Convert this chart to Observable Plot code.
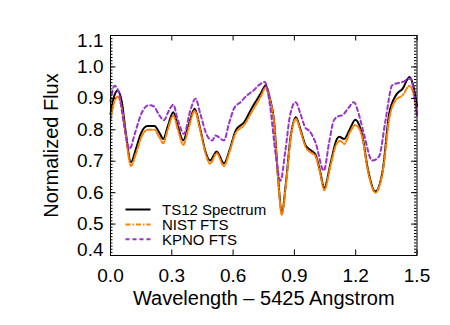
<!DOCTYPE html>
<html><head><meta charset="utf-8">
<script src="https://cdn.jsdelivr.net/npm/d3@7"></script>
<script src="https://cdn.jsdelivr.net/npm/@observablehq/plot@0.6"></script>
<style>body{margin:0;background:#fff}</style>
</head><body><div id="chart"></div>
<script>
// TS12 spectrum (black solid)
const tsX = [0.000,0.015,0.035,0.055,0.075,0.100,0.125,0.150,0.180,0.215,0.240,0.258,0.280,0.307,0.330,0.356,0.380,0.412,0.440,0.465,0.487,0.520,0.555,0.585,0.613,0.654,0.694,0.735,0.760,0.780,0.800,0.820,0.838,0.860,0.880,0.907,0.930,0.955,0.980,1.002,1.025,1.046,1.078,1.108,1.119,1.144,1.170,1.198,1.220,1.234,1.258,1.296,1.332,1.364,1.397,1.430,1.463,1.480,1.500];
const tsY = [0.850,0.900,0.925,0.890,0.790,0.697,0.740,0.790,0.812,0.812,0.790,0.771,0.810,0.856,0.810,0.766,0.810,0.867,0.800,0.730,0.702,0.731,0.693,0.740,0.798,0.824,0.872,0.915,0.942,0.900,0.830,0.650,0.535,0.640,0.770,0.840,0.800,0.750,0.735,0.723,0.670,0.615,0.697,0.771,0.778,0.771,0.800,0.832,0.810,0.776,0.680,0.604,0.670,0.851,0.910,0.931,0.968,0.945,0.875];
// NIST FTS (orange dash-dot)
const nistX = [0.000,0.015,0.035,0.055,0.075,0.100,0.125,0.150,0.180,0.215,0.240,0.258,0.280,0.307,0.330,0.356,0.380,0.412,0.440,0.465,0.487,0.520,0.555,0.585,0.613,0.654,0.694,0.735,0.760,0.780,0.800,0.820,0.838,0.860,0.880,0.907,0.930,0.955,0.980,1.002,1.025,1.046,1.078,1.108,1.125,1.144,1.170,1.198,1.220,1.234,1.258,1.296,1.332,1.364,1.397,1.430,1.463,1.480,1.500];
const nistY = [0.830,0.880,0.905,0.870,0.780,0.685,0.725,0.775,0.800,0.800,0.775,0.757,0.800,0.845,0.800,0.752,0.800,0.860,0.795,0.725,0.692,0.725,0.685,0.735,0.790,0.815,0.860,0.905,0.935,0.895,0.825,0.645,0.530,0.635,0.765,0.835,0.795,0.745,0.728,0.718,0.665,0.608,0.690,0.757,0.765,0.755,0.790,0.815,0.800,0.770,0.675,0.600,0.665,0.835,0.895,0.910,0.940,0.920,0.845];
// KPNO FTS (purple dashed)
const kpnoX = [0.000,0.020,0.040,0.065,0.093,0.120,0.150,0.188,0.210,0.240,0.261,0.285,0.307,0.330,0.360,0.390,0.416,0.440,0.470,0.498,0.514,0.555,0.580,0.604,0.640,0.669,0.700,0.726,0.755,0.780,0.808,0.832,0.855,0.880,0.906,0.930,0.955,0.971,1.003,1.044,1.070,1.093,1.115,1.134,1.165,1.191,1.215,1.240,1.281,1.314,1.346,1.379,1.428,1.468,1.485,1.500];
const kpnoY = [0.890,0.940,0.920,0.820,0.739,0.790,0.850,0.878,0.875,0.845,0.830,0.860,0.880,0.830,0.787,0.860,0.899,0.850,0.785,0.766,0.782,0.766,0.820,0.867,0.890,0.910,0.925,0.942,0.952,0.880,0.723,0.638,0.730,0.850,0.888,0.850,0.805,0.798,0.760,0.670,0.760,0.830,0.843,0.846,0.870,0.888,0.850,0.787,0.702,0.715,0.830,0.942,0.952,0.963,0.920,0.845];

const xTicks = [0.0,0.3,0.6,0.9,1.2,1.5];
const yTicks = [0.4,0.5,0.6,0.7,0.8,0.9,1.0,1.1];
const yMinor = d3.range(40,111).map(d => d/100);
const seriesNames = ["TS12 Spectrum","NIST FTS","KPNO FTS"];

const rows = (xs, ys) => xs.map((x,i) => ({x, y: ys[i]}));

const W = 450, H = 325, mL = 110, mR = 33.5, mT = 35, mB = 70;
const pw = W - mL - mR, ph = H - mT - mB;
const font = "'Liberation Sans', Arial, Helvetica, sans-serif";
const orange = "#ff8000", purple = "#9933cc";

const plot = Plot.plot({
  width: W, height: H,
  marginLeft: mL, marginRight: mR, marginTop: mT, marginBottom: mB,
  x: {domain: [0, 1.5]},
  y: {domain: [0.4, 1.1]},
  style: {fontFamily: font, fontSize: "19px", color: "black", background: "white", overflow: "visible"},
  marks: [
    Plot.line(rows(tsX, tsY), {x: "x", y: "y", stroke: "black", strokeWidth: 2, curve: "monotone-x"}),
    Plot.line(rows(nistX, nistY), {x: "x", y: "y", stroke: orange, strokeWidth: 2, strokeDasharray: "5,2,1.5,2", curve: "monotone-x"}),
    Plot.line(rows(kpnoX, kpnoY), {x: "x", y: "y", stroke: purple, strokeWidth: 2, strokeDasharray: "4,3", curve: "monotone-x"}),
    Plot.frame({stroke: "black", strokeWidth: 1}),
    // inward ticks
    Plot.tickY(yMinor, {y: d => d, stroke: "black", insetRight: pw - 2.5}),
    Plot.tickY(yMinor, {y: d => d, stroke: "black", insetLeft: pw - 2.5}),
    Plot.tickY(yTicks, {y: d => d, stroke: "black", insetRight: pw - 5.5}),
    Plot.tickY(yTicks, {y: d => d, stroke: "black", insetLeft: pw - 5.5}),
    Plot.tickX(xTicks, {x: d => d, stroke: "black", insetTop: ph - 5.5}),
    Plot.tickX(xTicks, {x: d => d, stroke: "black", insetBottom: ph - 5.5}),
    // tick labels
    Plot.axisX(xTicks, {tickSize: 0, tickPadding: 13, label: null, tickFormat: d3.format(".1f"), fontSize: 19}),
    Plot.axisY(yTicks.filter(d => d > 0.45 && d < 1.05), {tickSize: 0, tickPadding: 7, label: null, tickFormat: d3.format(".1f"), fontSize: 19}),
    Plot.axisY([1.1], {tickSize: 0, tickPadding: 7, label: null, tickFormat: d3.format(".1f"), fontSize: 19, dy: 5}),
    Plot.axisY([0.4], {tickSize: 0, tickPadding: 7, label: null, tickFormat: d3.format(".1f"), fontSize: 19, dy: -6}),
    // axis titles
    Plot.text(["Wavelength \u2013 5425 Angstrom"], {text: d => d, frameAnchor: "bottom", textAnchor: "middle", lineAnchor: "middle", dy: 42.6, fontSize: 20}),
    Plot.text(["Normalized Flux"], {text: d => d, frameAnchor: "left", textAnchor: "middle", lineAnchor: "middle", rotate: -90, dx: -59, fontSize: 20})
  ]
});

// legend
const svg = d3.select(plot);
const leg = svg.append("g").attr("font-family", font).attr("font-size", 15).attr("text-anchor", "start");
const legStyles = [
  {stroke: "black", dash: null},
  {stroke: orange, dash: "5,2,1.5,2"},
  {stroke: purple, dash: "4,3"}
];
seriesNames.forEach((name, i) => {
  const yy = 209.5 + i * 14.9;
  leg.append("line").attr("x1", 125.5).attr("x2", 150.5).attr("y1", yy).attr("y2", yy)
    .attr("stroke", legStyles[i].stroke).attr("stroke-width", 2)
    .attr("stroke-dasharray", legStyles[i].dash);
  leg.append("text").attr("x", 162).attr("y", yy).attr("dy", "0.35em").attr("fill", "black").text(name);
});

document.getElementById("chart").append(plot);
</script>
</body></html>
